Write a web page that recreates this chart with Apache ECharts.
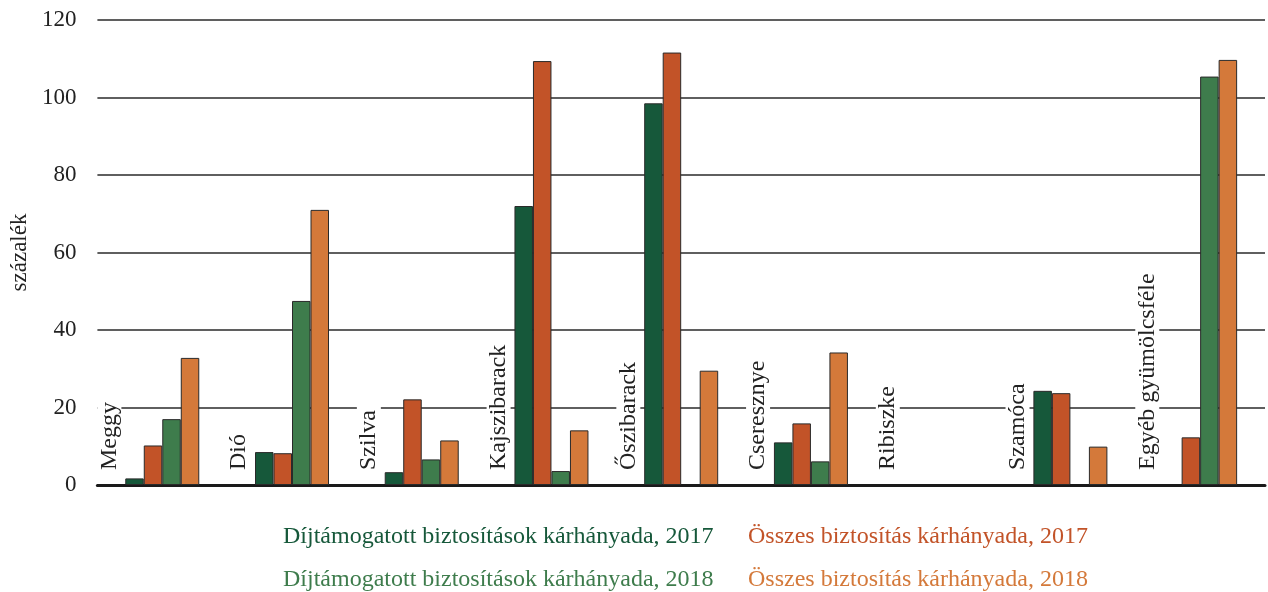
<!DOCTYPE html>
<html>
<head>
<meta charset="utf-8">
<script src="https://cdn.jsdelivr.net/npm/echarts@6/dist/echarts.min.js"></script>
<style>
  html, body { margin: 0; padding: 0; background: #fff; }
  #chart { width: 1268px; height: 592px; }
</style>
</head>
<body>
<div id="chart"></div>
<script>
// Gyümölcsfajok
const categories = ['Meggy', 'Dió', 'Szilva', 'Kajszibarack', 'Őszibarack', 'Cseresznye', 'Ribiszke', 'Szamóca', 'Egyéb gyümölcsféle'];

// Kárhányad, százalék (null = nincs adat)
const dijtam2017 = [1.7, 8.5, 3.3, 72.0, 98.5, 11.0, null, 24.3, null];
const osszes2017 = [10.2, 8.2, 22.1, 109.4, 111.6, 15.9, null, 23.7, 12.3];
const dijtam2018 = [17.0, 47.5, 6.6, 3.6, null, 6.1, null, null, 105.4];
const osszes2018 = [32.8, 71.0, 11.5, 14.1, 29.5, 34.2, null, 9.9, 109.7];

const seriesNames = [
  'Díjtámogatott biztosítások kárhányada, 2017',
  'Összes biztosítás kárhányada, 2017',
  'Díjtámogatott biztosítások kárhányada, 2018',
  'Összes biztosítás kárhányada, 2018'
];
const yTicks = [0, 20, 40, 60, 80, 100, 120];

const colors = ['#16583a', '#c25328', '#3e7c4c', '#d4793a'];
const FONT = '"Liberation Serif", "Times New Roman", serif';

const chart = echarts.init(document.getElementById('chart'), null, { renderer: 'canvas' });

const values = [dijtam2017, osszes2017, dijtam2018, osszes2018];
const barSeries = values.map((v, i) => ({
  name: seriesNames[i],
  type: 'bar',
  data: v,
  barWidth: 18.5,
  barGap: '0%',
  itemStyle: { color: colors[i], borderColor: '#2a2a2a', borderWidth: 1 },
  z: 3
}));

// Függőleges kategóriafeliratok a csoportok bal szélén
const labelSeries = {
  type: 'custom',
  data: categories.map((c, i) => i),
  silent: true,
  z: 4,
  renderItem: function (params, api) {
    const idx = api.value(0);
    const base = api.coord([idx, 0]);
    const band = api.size([1, 0])[0];
    return {
      type: 'text',
      x: base[0] - band / 2 + 12,
      y: base[1] - 11,
      rotation: Math.PI / 2,
      style: {
        text: categories[idx],
        fontFamily: FONT,
        fontSize: 24,
        fill: '#222',
        align: 'left',
        verticalAlign: 'middle',
        backgroundColor: '#fff',
        padding: [0, 4, 0, 4]
      }
    };
  }
};

// Jelmagyarázat: 2×2 elrendezés, csak színes szöveg
const legendPos = [[273, 517], [738, 517], [273, 560], [738, 560]];
const legends = seriesNames.map((n, i) => ({
  data: [{ name: n, textStyle: { color: colors[i] } }],
  icon: 'none',
  itemWidth: 0,
  itemHeight: 0,
  left: legendPos[i][0],
  top: legendPos[i][1],
  textStyle: { fontFamily: FONT, fontSize: 24, lineHeight: 30 },
  selectedMode: false
}));

chart.setOption({
  backgroundColor: '#fff',
  animation: false,
  grid: { left: 96, right: 3, top: 20, bottom: 107 },
  legend: legends,
  xAxis: {
    type: 'category',
    data: categories,
    axisLine: { show: true, lineStyle: { color: '#1a1a1a', width: 3 } },
    axisTick: { show: false },
    axisLabel: { show: false },
    splitLine: { show: false }
  },
  yAxis: {
    type: 'value',
    min: yTicks[0],
    max: yTicks[yTicks.length - 1],
    interval: 20,
    name: 'százalék',
    nameLocation: 'middle',
    nameGap: 61,
    nameRotate: 90,
    nameTextStyle: { fontFamily: FONT, fontSize: 23, color: '#222' },
    axisLine: { show: false },
    axisTick: { show: false },
    axisLabel: { fontFamily: FONT, fontSize: 23, color: '#222', margin: 21 },
    splitLine: { lineStyle: { color: '#2a2a2a', width: 1.5 } }
  },
  series: barSeries.concat([labelSeries])
});
</script>
</body>
</html>
